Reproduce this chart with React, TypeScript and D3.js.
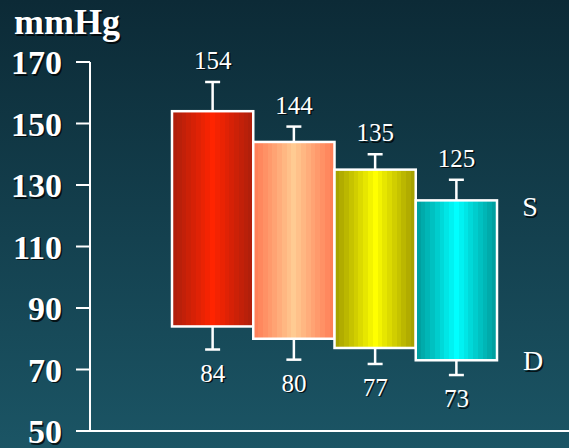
import React from "react";
import * as d3 from "d3";

const groups = ["A", "B", "C", "D"];
const systolic = [154, 144, 135, 125];
const diastolic = [84, 80, 77, 73];
const systolicSD = [9.5, 5, 5, 6.7];
const diastolicSD = [7.5, 6.8, 5.2, 4.8];
const edgeColors = ["#ad1f0c", "#ff7c55", "#a39e00", "#009c9c"];
const centerColors = ["#ff2400", "#ffcb92", "#ffff00", "#00ffff"];
const yTicks = [50, 70, 90, 110, 130, 150, 170];
const yUnit = "mmHg";
const seriesLabels = ["S", "D"];

const W = 569;
const H = 448;
const FONT = "'Liberation Serif', 'Times New Roman', serif";

function Txt(props: any) {
  const { children, ...rest } = props;
  return (
    <g>
      <text {...rest} x={rest.x + 1.5} y={rest.y + 1.5} fill="#000" fillOpacity={0.75}>
        {children}
      </text>
      <text {...rest} fill="#fff">
        {children}
      </text>
    </g>
  );
}

export default function App() {
  const y = d3.scaleLinear().domain([50, 170]).range([431, 62]);
  const x = d3.scaleBand<string>().domain(groups).range([172, 497]).padding(0);
  const axisX = 90;
  const nBands = 17;

  const gradients = groups.map((g, i) => {
    const interp = d3.interpolateRgb(edgeColors[i], centerColors[i]);
    const stops: any[] = [];
    for (let b = 0; b < nBands; b++) {
      const c = (b + 0.5) / nBands;
      const t = 1 - Math.abs(c - 0.5) * 2;
      const col = interp(Math.pow(t, 1.1));
      stops.push(<stop key={b + "a"} offset={b / nBands} stopColor={col} />);
      stops.push(<stop key={b + "b"} offset={(b + 1) / nBands} stopColor={col} />);
    }
    return (
      <linearGradient key={g} id={"bar" + i} x1="0" x2="1" y1="0" y2="0">
        {stops}
      </linearGradient>
    );
  });

  return (
    <svg width={W} height={H} style={{ display: "block", position: "absolute", left: 0, top: 0 }}>
      <defs>
        <linearGradient id="bg" x1="0" x2="0" y1="0" y2="1">
          <stop offset="0" stopColor="#0c2a36" />
          <stop offset="1" stopColor="#1b5565" />
        </linearGradient>
        {gradients}
      </defs>
      <rect x={0} y={0} width={W} height={H} fill="url(#bg)" />

      {/* axes */}
      <line x1={axisX} x2={axisX} y1={y(170)} y2={y(50)} stroke="#fff" strokeWidth={2} />
      <line x1={axisX} x2={W} y1={y(50)} y2={y(50)} stroke="#fff" strokeWidth={2} />
      {yTicks.map((t) => (
        <g key={t}>
          <line x1={76} x2={axisX} y1={y(t)} y2={y(t)} stroke="#fff" strokeWidth={2} />
          <Txt x={62} y={y(t) + 12} textAnchor="end" fontFamily={FONT} fontWeight="bold" fontSize={34}>
            {t}
          </Txt>
        </g>
      ))}
      <Txt x={14} y={34} fontFamily={FONT} fontWeight="bold" fontSize={36}>
        {yUnit}
      </Txt>

      {/* error bars */}
      {groups.map((g, i) => {
        const cx = (x(g) as number) + x.bandwidth() / 2;
        const topCap = y(systolic[i] + systolicSD[i]);
        const botCap = y(diastolic[i] - diastolicSD[i]);
        return (
          <g key={g} stroke="#fff" strokeWidth={2.5}>
            <line x1={cx} x2={cx} y1={y(systolic[i])} y2={topCap} />
            <line x1={cx - 7.5} x2={cx + 7.5} y1={topCap} y2={topCap} />
            <line x1={cx} x2={cx} y1={y(diastolic[i])} y2={botCap} />
            <line x1={cx - 7.5} x2={cx + 7.5} y1={botCap} y2={botCap} />
          </g>
        );
      })}

      {/* bars */}
      {groups.map((g, i) => (
        <rect
          key={g}
          x={x(g) as number}
          y={y(systolic[i])}
          width={x.bandwidth()}
          height={y(diastolic[i]) - y(systolic[i])}
          fill={`url(#bar${i})`}
          stroke="#fff"
          strokeWidth={2.5}
        />
      ))}

      {/* value labels */}
      {groups.map((g, i) => {
        const cx = (x(g) as number) + x.bandwidth() / 2;
        const topCap = y(systolic[i] + systolicSD[i]);
        const botCap = y(diastolic[i] - diastolicSD[i]);
        return (
          <g key={g}>
            <Txt x={cx} y={topCap - 13} textAnchor="middle" fontFamily={FONT} fontSize={25}>
              {systolic[i]}
            </Txt>
            <Txt x={cx} y={botCap + 32} textAnchor="middle" fontFamily={FONT} fontSize={25}>
              {diastolic[i]}
            </Txt>
          </g>
        );
      })}

      <Txt x={530} y={y(systolic[3]) + 16} textAnchor="middle" fontFamily={FONT} fontSize={28}>
        {seriesLabels[0]}
      </Txt>
      <Txt x={533} y={y(diastolic[3]) + 10} textAnchor="middle" fontFamily={FONT} fontSize={28}>
        {seriesLabels[1]}
      </Txt>
    </svg>
  );
}
